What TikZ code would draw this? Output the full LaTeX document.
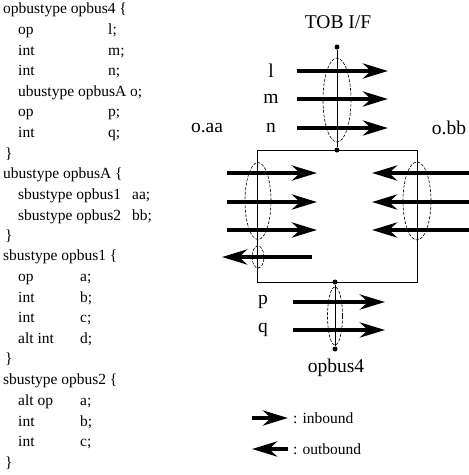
\documentclass[tikz,border=0pt]{standalone}
\usepackage{fontspec}
\setmainfont{Liberation Serif}
\usetikzlibrary{arrows.meta,positioning,shapes.geometric}

\newcommand{\col}[2]{\makebox[#1pt][l]{#2}}

\begin{document}
\begin{tikzpicture}[
    x=1pt, y=-1pt,
    code/.style={anchor=north west, inner sep=0pt, align=left, font=\fontsize{15.5}{20.6}\selectfont},
    lbl/.style={inner sep=0pt, font=\fontsize{19.5}{22}\selectfont},
    legend/.style={anchor=west, inner sep=0pt, font=\fontsize{15.5}{18}\selectfont},
    bus/.style={draw, ellipse, dash pattern=on 3pt off 1.5pt, line width=0.6pt, inner sep=0pt},
    wire/.style={line width=0.7pt},
    dot/.style={circle, fill, inner sep=0pt, minimum size=5pt},
    inarrow/.style={-{Stealth[length=25pt, width=15pt, inset=8pt]}, line width=4.8pt}
]
\useasboundingbox (0,0) rectangle (469,475);

% type declarations
\node[code] (opbusfour) at (3,3) {opbustype opbus4 \{\\
\hspace*{15pt}\col{90}{op}l;\\
\hspace*{15pt}\col{90}{int}m;\\
\hspace*{15pt}\col{90}{int}n;\\
\hspace*{15pt}ubustype opbusA o;\\
\hspace*{15pt}\col{90}{op}p;\\
\hspace*{15pt}\col{90}{int}q;\\
\hspace*{2pt}\}};
\node[code] (opbusA) at (3,168) {ubustype opbusA \{\\
\hspace*{15pt}\col{114}{sbustype opbus1}aa;\\
\hspace*{15pt}\col{114}{sbustype opbus2}bb;\\
\hspace*{2pt}\}};
\node[code] (opbusone) at (3,250) {sbustype opbus1 \{\\
\hspace*{15pt}\col{62}{op}a;\\
\hspace*{15pt}\col{62}{int}b;\\
\hspace*{15pt}\col{62}{int}c;\\
\hspace*{15pt}\col{62}{alt int}d;\\
\hspace*{2pt}\}};
\node[code] (opbustwo) at (3,374) {sbustype opbus2 \{\\
\hspace*{15pt}\col{62}{alt op}a;\\
\hspace*{15pt}\col{62}{int}b;\\
\hspace*{15pt}\col{62}{int}c;\\
\hspace*{2pt}\}};

% TOB interface
\node[lbl] (tob) at (338,22) {TOB I/F};
\node[dot] (ttop) at (337,47) {};
\node[dot] (tbot) at (337,150) {};
\draw[wire] (ttop) -- (tbot);
\node[bus, minimum width=28pt, minimum height=84pt] (tbus) at (337,100) {};
\foreach \y/\s in {71/l, 99/m, 128/n} {
  \node[lbl] (\s) at (271,\y) {\s};
  \draw[inarrow] (297,\y) -- (388,\y);
}

% opbusA frame
\coordinate (tl) at (257,150);
\coordinate (tr) at (417,150);
\coordinate (bl) at (257,282);
\coordinate (br) at (417,282);
\draw[wire] (tl) -- (tr) -- (br) -- (bl) -- cycle;
\node[lbl] (oaa) at (207,128) {o.aa};
\node[lbl] (obb) at (449,128) {o.bb};

% o.aa
\foreach \y in {173, 202, 230}
  \draw[inarrow] (227,\y) -- (317,\y);
\draw[inarrow] (312,257) -- (222,257);
\node[bus, minimum width=26pt, minimum height=77pt] (aabus) at (258,201) {};
\node[bus, minimum width=12pt, minimum height=22pt] (aaalt) at (258,257) {};

% o.bb
\foreach \y in {173, 202, 230}
  \draw[inarrow] (470,\y) -- (372,\y);
\node[bus, minimum width=28pt, minimum height=78pt] (bbbus) at (417,201) {};

% p, q
\node[dot] (ptop) at (335,282) {};
\node[dot] (pbot) at (335,349) {};
\draw[wire] (ptop) -- (pbot);
\node[bus, minimum width=15pt, minimum height=58pt] (pqbus) at (335,316) {};
\foreach \y/\s in {302/p, 330/q} {
  \node[lbl] (\s) at (263,\y) {\s};
  \draw[inarrow] (293,\y) -- (385,\y);
}
\node[lbl] (opbus) at (336,368) {opbus4};

% legend
\draw[inarrow] (252,418) -- (288,418);
\node[legend] (inb) at (293,418) {: inbound};
\draw[inarrow] (288,449) -- (252,449);
\node[legend] (outb) at (293,449) {: outbound};

\end{tikzpicture}
\end{document}
